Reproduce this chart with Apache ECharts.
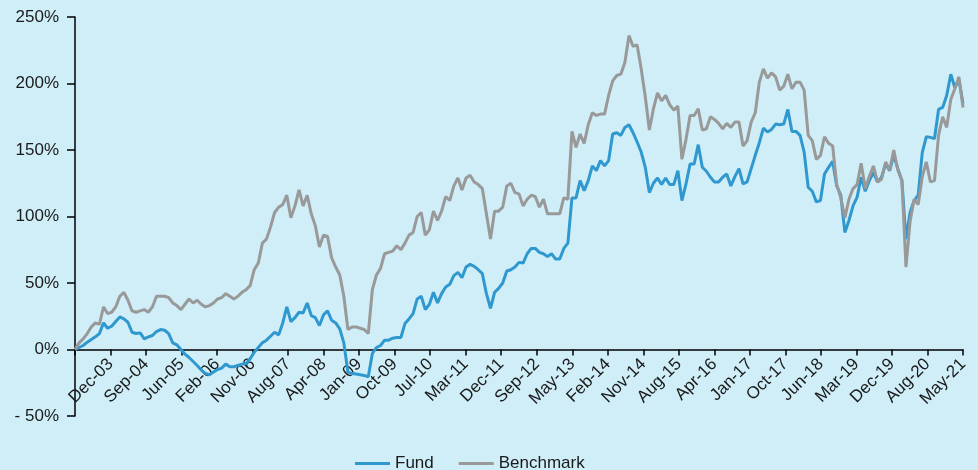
<!DOCTYPE html>
<html>
<head>
<meta charset="utf-8">
<script src="https://cdn.jsdelivr.net/npm/echarts@6/dist/echarts.min.js"></script>
<style>
  html, body { margin: 0; padding: 0; background: #cfeef8; }
  #chart { width: 978px; height: 470px; }
</style>
</head>
<body>
<div id="chart"></div>
<script>
// monthly points, Mar-03 .. May-21 (index = month number)
var fundValues = [
  0, 1.5, 3, 5.5, 7.5, 9.5, 12, 20, 16, 17.5, 21, 24.5, 23, 20.5, 13, 12, 12.5, 8, 9.5, 10.5,
  13.5, 15, 14.5, 12, 5, 3.5, 0, -3.5, -6, -9, -12, -15.5, -18, -19, -17, -15, -14, -11, -13, -13,
  -12, -11, -10.5, -7, -2, 1.5, 5, 7, 10, 13, 11, 20, 32, 21, 24, 28, 27.5, 35, 25.5, 24,
  18, 26, 29, 22, 20, 15.5, 5, -17, -18, -18.5, -19, -19.5, -20.5, -3, 1.5, 3, 7, 7, 8.5, 9,
  9, 19.5, 23, 27, 38, 40, 30, 34, 43, 35, 42, 47, 49, 55.5, 58, 54, 62, 64, 62.5, 60,
  57, 42, 31, 43, 46, 50, 59, 60, 62, 65.5, 65, 72, 76, 76, 73, 72, 70, 72, 68, 68,
  76, 80, 114, 114, 127, 119.5, 127, 138, 134.5, 142, 138, 142, 162, 163, 161, 167, 169, 163, 156, 148.5,
  137, 118, 125, 129, 124, 129, 124, 124, 134.5, 112, 124.5, 139.5, 139.5, 154, 137, 134, 129.5, 126, 126, 129.5,
  132, 123, 130, 136, 124.5, 126, 136, 146, 155.5, 166.5, 163.5, 165.5, 169.5, 169, 169.5, 180.5, 164, 164, 161, 148.5,
  122, 119, 111, 112, 132, 137, 141.5, 123, 116, 88, 97, 108, 114.5, 129.5, 119, 127, 133, 126, 129.5, 139.5,
  134.5, 146, 136, 127, 83, 103, 112, 116, 148, 160, 159.5, 158.5, 180.5, 182, 191, 207, 197, 203, 185
];

var benchmarkValues = [
  0, 5, 8, 12, 17, 20, 19, 32, 27, 28, 32, 40, 43, 37, 29, 28, 29, 30, 28, 32,
  40, 40, 40, 39, 35, 33, 30, 34, 38, 35, 37, 34, 32, 33, 35, 38, 39, 42, 40, 38,
  40, 43, 45, 48, 60, 65, 80, 83, 92, 103, 107, 109, 116, 99, 108, 120, 108, 116, 102, 93,
  77, 86, 85, 69, 62, 56, 40, 15, 17, 17, 16, 15, 12, 45, 56, 61, 72, 73, 74, 78,
  75, 80, 86, 88, 100, 103, 86, 90, 104, 97, 104, 115, 112, 123, 129, 120, 129, 131, 126, 124,
  121, 102, 83, 104, 104, 107, 123, 125, 118, 117, 108, 113, 116, 115, 107, 113, 102, 102, 102, 102,
  114, 113, 164, 152, 162, 155, 169, 178, 176, 177, 177, 191, 202, 206, 207, 216, 236, 228, 229, 211,
  190, 165, 181, 193, 187, 191, 184, 180, 183, 143, 158, 176, 176, 181, 165, 166, 175, 173, 170, 166,
  170, 167, 171, 171, 153, 157, 171, 178, 201, 211, 204, 208, 205, 195, 198, 207, 196, 201, 201, 195,
  161, 157, 143, 146, 160, 155, 153, 124, 114, 99, 113, 121, 124, 140, 121, 130, 138, 126, 128, 141,
  135, 150, 135, 127, 62, 96, 113, 109, 130, 141, 126, 127, 161, 175, 167, 188, 196, 205, 182
];

var tickLabels = ['', 'Dec-03', 'Sep-04', 'Jun-05', 'Feb-06', 'Nov-06', 'Aug-07', 'Apr-08', 'Jan-09',
  'Oct-09', 'Jul-10', 'Mar-11', 'Dec-11', 'Sep-12', 'May-13', 'Feb-14', 'Nov-14', 'Aug-15',
  'Apr-16', 'Jan-17', 'Oct-17', 'Jun-18', 'Mar-19', 'Dec-19', 'Aug-20', 'May-21'];

var yMin = -50, yMax = 250, yStep = 50;

var lastIndex = fundValues.length - 1;
var step = lastIndex / (tickLabels.length - 1);

function toPoints(arr) {
  return arr.map(function (v, i) { return [i, v]; });
}

var gridTop = 17, gridBottom = 54, chartH = 470;
var plotH = chartH - gridTop - gridBottom;
// lift the category axis (line, ticks and labels) up to the 0% level
var zeroOffset = -(0 - yMin) / (yMax - yMin) * plotH;

var myChart = echarts.init(document.getElementById('chart'));
var font = 'Liberation Sans, Arial, sans-serif';

var option = {
  backgroundColor: '#cfeef8',
  animation: false,
  grid: { left: 75, right: 15, top: gridTop, bottom: gridBottom },
  legend: {
    data: ['Fund', 'Benchmark'],
    left: 350,
    top: 450,
    icon: 'rect',
    itemWidth: 35,
    itemHeight: 3,
    itemGap: 25,
    textStyle: { fontFamily: font, fontSize: 17, color: '#1a1a1a' }
  },
  xAxis: {
    type: 'value',
    min: 0,
    max: lastIndex,
    interval: step,
    offset: zeroOffset,
    splitLine: { show: false },
    axisLine: { onZero: false, lineStyle: { color: '#000', width: 1.5 } },
    axisTick: { show: true, length: 6, lineStyle: { color: '#000', width: 1.5 } },
    axisLabel: {
      rotate: 45,
      margin: 12,
      fontFamily: font,
      fontSize: 17,
      color: '#1a1a1a',
      showMinLabel: true,
      showMaxLabel: true,
      formatter: function (v) {
        return tickLabels[Math.round(v / step)] || '';
      }
    }
  },
  yAxis: {
    type: 'value',
    min: yMin,
    max: yMax,
    interval: yStep,
    splitLine: { show: false },
    axisLine: { show: true, lineStyle: { color: '#000', width: 1.5 } },
    axisTick: { show: true, length: 8, lineStyle: { color: '#000', width: 1.5 } },
    axisLabel: {
      margin: 16,
      fontFamily: font,
      fontSize: 17,
      color: '#1a1a1a',
      formatter: function (v) {
        return v < 0 ? '- ' + Math.abs(v) + '%' : v + '%';
      }
    }
  },
  series: [
    {
      name: 'Fund',
      type: 'line',
      data: toPoints(fundValues),
      showSymbol: false,
      lineStyle: { color: '#2f98cf', width: 3 },
      itemStyle: { color: '#2f98cf' }
    },
    {
      name: 'Benchmark',
      type: 'line',
      data: toPoints(benchmarkValues),
      showSymbol: false,
      lineStyle: { color: '#999999', width: 3 },
      itemStyle: { color: '#999999' }
    }
  ]
};

myChart.setOption(option);
</script>
</body>
</html>
